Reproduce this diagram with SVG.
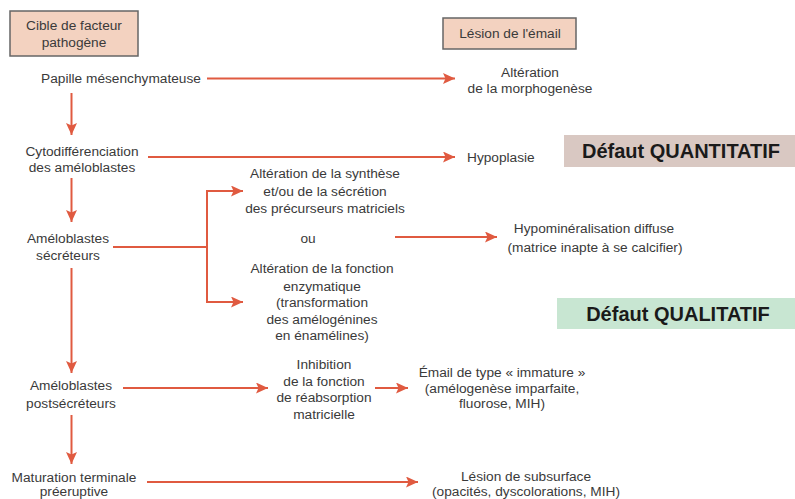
<svg xmlns="http://www.w3.org/2000/svg" width="795" height="499" viewBox="0 0 795 499">
<style>
text{font-family:"Liberation Sans",Arial,sans-serif;font-size:13.7px;fill:#3a3a3a;text-anchor:middle}
.l{text-anchor:start}
.big{font-size:20px;font-weight:bold;fill:#1a1a1a}
.hdr{fill:#f3d2c0;stroke:#666;stroke-width:1.5}
.c{stroke:#e05a40;stroke-width:2;fill:none}
.a{marker-end:url(#ah)}
</style>
<defs>
<marker id="ah" markerUnits="userSpaceOnUse" markerWidth="13" markerHeight="11" refX="12" refY="5.5" orient="auto">
<path d="M0,0 L12,5.5 L0,11 L2.5,5.5 z" fill="#e05a40"/>
</marker>
</defs>
<rect width="795" height="499" fill="#ffffff"/>

<g id="hdr-cible"><rect class="hdr" x="10" y="11" width="128" height="45"/><text x="74" y="30">Cible de facteur</text><text x="74" y="47">pathogène</text></g>
<g id="hdr-lesion"><rect class="hdr" x="443" y="18" width="133" height="31"/><text x="510" y="38">Lésion de l'émail</text></g>

<g id="n-papille"><text x="121" y="83">Papille mésenchymateuse</text></g>
<g id="n-morpho"><text x="530" y="77">Altération</text><text x="530" y="93">de la morphogenèse</text></g>
<g id="n-cyto"><text x="82" y="156">Cytodifférenciation</text><text x="82" y="172">des améloblastes</text></g>
<g id="n-hypoplasie"><text class="l" x="467" y="162">Hypoplasie</text></g>
<g id="n-quanti"><rect x="564" y="135" width="231" height="32" fill="#d9c8c2"/><text class="big" x="681" y="158">Défaut QUANTITATIF</text></g>
<g id="n-secr"><text x="68" y="243">Améloblastes</text><text x="68" y="260">sécréteurs</text></g>
<g id="n-synth"><text x="325" y="178">Altération de la synthèse</text><text x="325" y="196">et/ou de la sécrétion</text><text x="325" y="213">des précurseurs matriciels</text></g>
<g id="n-ou"><text x="308" y="243">ou</text></g>
<g id="n-enzym"><text x="322" y="273">Altération de la fonction</text><text x="322" y="291">enzymatique</text><text x="322" y="307">(transformation</text><text x="322" y="324">des amélogénines</text><text x="322" y="340">en énamélines)</text></g>
<g id="n-hypomin"><text x="594" y="233">Hypominéralisation diffuse</text><text x="595" y="252">(matrice inapte à se calcifier)</text></g>
<g id="n-quali"><rect x="557" y="298" width="238" height="31" fill="#c8e6d2"/><text class="big" x="678" y="321">Défaut QUALITATIF</text></g>
<g id="n-postsecr"><text x="71" y="390">Améloblastes</text><text x="71" y="408">postsécréteurs</text></g>
<g id="n-inhib"><text x="324" y="369">Inhibition</text><text x="324" y="386">de la fonction</text><text x="324" y="402">de réabsorption</text><text x="324" y="419">matricielle</text></g>
<g id="n-immature"><text x="502" y="377">Émail de type « immature »</text><text x="502" y="393">(amélogenèse imparfaite,</text><text x="502" y="408">fluorose, MIH)</text></g>
<g id="n-matur"><text x="74" y="482">Maturation terminale</text><text x="74" y="496">préeruptive</text></g>
<g id="n-subsurf"><text x="526" y="481">Lésion de subsurface</text><text x="526" y="496">(opacités, dyscolorations, MIH)</text></g>

<g id="connectors">
<line class="c a" x1="207" y1="78.5" x2="455" y2="78.5"/>
<line class="c a" x1="71.5" y1="93" x2="71.5" y2="135"/>
<line class="c a" x1="148" y1="157" x2="455" y2="157"/>
<line class="c a" x1="71.5" y1="178" x2="71.5" y2="222"/>
<line class="c" x1="113" y1="247" x2="207" y2="247"/>
<path class="c a" d="M207,247 V191 H243"/>
<path class="c a" d="M207,247 V302 H243"/>
<line class="c a" x1="395" y1="237" x2="497" y2="237"/>
<line class="c a" x1="71.5" y1="268" x2="71.5" y2="373"/>
<line class="c a" x1="123" y1="388" x2="268" y2="388"/>
<line class="c a" x1="375" y1="388" x2="408" y2="388"/>
<line class="c a" x1="71.5" y1="415" x2="71.5" y2="464"/>
<line class="c a" x1="147" y1="482" x2="418" y2="482"/>
</g>
</svg>
